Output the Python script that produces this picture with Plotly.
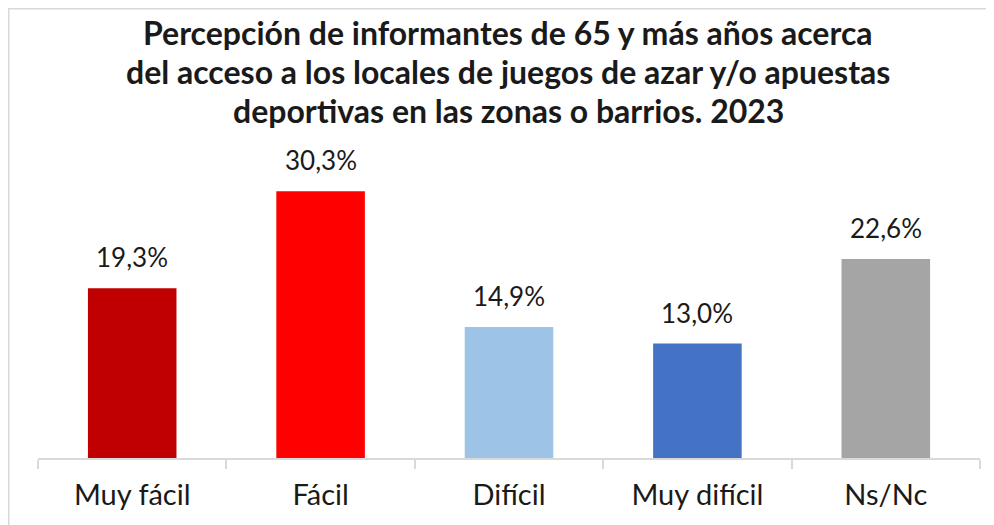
import plotly.graph_objects as go

categories = ["Muy fácil", "Fácil", "Difícil", "Muy difícil", "Ns/Nc"]
values = [19.3, 30.3, 14.9, 13.0, 22.6]
colors = ["#C00000", "#FF0000", "#9DC3E6", "#4472C4", "#A5A5A5"]
labels = [f"{v:.1f}%".replace(".", ",") for v in values]
title_lines = [
    "Percepción de informantes de 65 y más años acerca",
    "del acceso a los locales de juegos de azar y/o apuestas",
    "deportivas en las zonas o barrios. 2023",
]

FONT = "Lato, 'Open Sans', sans-serif"

# page is offset by the 8px body margin
W, H = 986, 517
L, R, T, B = 30, 14, 142, 67
pw, ph = W - L - R, H - T - B

fig = go.Figure()
fig.add_trace(go.Bar(
    x=categories, y=values,
    marker=dict(color=colors, line=dict(width=0)),
    width=0.47,
    hoverinfo="skip",
))

for c, v, t in zip(categories, values, labels):
    fig.add_annotation(x=c, y=v, text=t, showarrow=False, yanchor="bottom",
                       yshift=13, font=dict(family=FONT, size=26, color="#1a1a1a"))

for i, line in enumerate(title_lines):
    yc = [25, 63.5, 102.2][i]
    fig.add_annotation(
        xref="paper", yref="paper",
        x=(500 - L) / pw, y=(H - B - yc) / ph,
        text=line, showarrow=False,
        xanchor="center", yanchor="middle",
        font=dict(family=FONT, size=32, color="#1a1a1a", weight="bold"),
    )

fig.add_shape(type="rect", xref="paper", yref="paper",
              x0=(0.75 - L) / pw, x1=(1010 - L) / pw,
              y0=(H - B - 540) / ph, y1=(H - B - 0.75) / ph,
              line=dict(color="#D9D9D9", width=1.5), fillcolor="rgba(0,0,0,0)", layer="below")

fig.update_layout(
    width=W, height=H,
    margin=dict(l=L, r=R, t=T, b=B, pad=0),
    paper_bgcolor="white", plot_bgcolor="white",
    showlegend=False,
    font=dict(family=FONT, color="#1a1a1a"),
    xaxis=dict(
        showline=True, linecolor="#D9D9D9", linewidth=1.5,
        ticks="outside", tickson="boundaries", ticklen=9, tickcolor="#D9D9D9", tickwidth=1.5,
        ticklabelstandoff=10,
        tickfont=dict(family=FONT, size=29, color="#1a1a1a"),
        showgrid=False, zeroline=False,
    ),
    yaxis=dict(range=[0, 35], visible=False, showgrid=False, zeroline=False),
)

fig.write_html("out.html")
